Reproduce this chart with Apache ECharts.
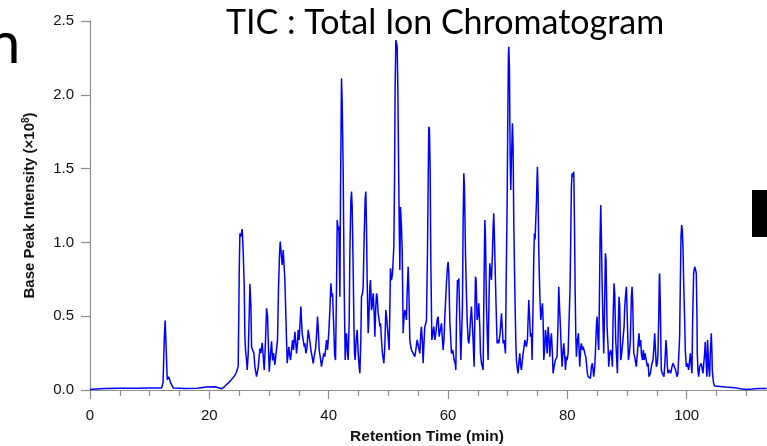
<!DOCTYPE html>
<html>
<head>
<meta charset="utf-8">
<title>TIC : Total Ion Chromatogram</title>
<script src="https://cdn.jsdelivr.net/npm/echarts@6/dist/echarts.min.js"></script>
<style>
  html, body { margin: 0; padding: 0; background: #fff; }
  #chart { width: 767px; height: 446px; }
</style>
</head>
<body>
<div id="chart"></div>
<script>
// retention time (min)
const retentionTime = [
  0, 1, 2.5, 5, 8, 10, 12, 12.25, 12.45, 12.6,
  12.75, 12.95, 13.2, 13.5, 13.95, 16, 18, 19.5, 21, 22.05,
  22.6, 23.5, 24.3, 24.56, 24.84, 25.01, 25.12, 25.29, 25.51, 25.68,
  25.85, 25.96, 26.07, 26.24, 26.35, 26.52, 26.69, 26.8, 26.97, 27.08,
  27.24, 27.47, 27.63, 27.91, 28.19, 28.36, 28.47, 28.64, 28.86, 29.03,
  29.2, 29.42, 29.59, 29.76, 29.92, 30.04, 30.26, 30.43, 30.59, 30.76,
  30.98, 31.26, 31.43, 31.6, 31.77, 31.88, 32.05, 32.21, 32.38, 32.49,
  32.66, 32.77, 32.94, 33.05, 33.22, 33.33, 33.5, 33.61, 33.78, 33.94,
  34.11, 34.34, 34.5, 34.61, 34.78, 34.89, 35.06, 35.34, 35.45, 35.56,
  35.73, 35.9, 36.01, 36.18, 36.35, 36.57, 36.74, 36.9, 37.02, 37.18,
  37.41, 37.57, 37.8, 37.96, 38.13, 38.24, 38.41, 38.58, 38.8, 38.97,
  39.19, 39.36, 39.64, 39.81, 40.03, 40.2, 40.37, 40.53, 40.65, 40.81,
  41, 41.15, 41.32, 41.43, 41.6, 41.71, 41.88, 41.99, 42.15, 42.27,
  42.43, 42.6, 42.77, 42.88, 42.99, 43.16, 43.27, 43.44, 43.55, 43.72,
  43.83, 43.94, 44.11, 44.22, 44.33, 44.44, 44.61, 44.78, 44.95, 45.11,
  45.23, 45.39, 45.5, 45.67, 45.78, 45.95, 46.12, 46.23, 46.34, 46.45,
  46.62, 46.73, 46.9, 47.01, 47.18, 47.29, 47.46, 47.63, 47.74, 47.9,
  48.02, 48.13, 48.3, 48.46, 48.58, 48.69, 48.85, 49.02, 49.25, 49.41,
  49.58, 49.75, 49.97, 50.14, 50.25, 50.36, 50.53, 50.7, 50.81, 50.92,
  51.03, 51.14, 51.26, 51.37, 51.48, 51.59, 51.7, 51.81, 51.93, 52.04,
  52.09, 52.2, 52.32, 52.43, 52.48, 52.6, 52.76, 52.93, 53.04, 53.15,
  53.32, 53.43, 53.6, 53.77, 53.88, 54.16, 54.44, 54.61, 54.83, 55,
  55.16, 55.28, 55.44, 55.55, 55.72, 55.83, 56, 56.11, 56.28, 56.39,
  56.56, 56.67, 56.78, 56.89, 57.01, 57.12, 57.29, 57.45, 57.62, 57.79,
  57.96, 58.18, 58.35, 58.51, 58.63,
  58.91, 59.07, 59.19, 59.35, 59.47, 59.58, 59.74, 59.91, 60.02, 60.14,
  60.3, 60.47, 60.58, 60.8, 61.03, 61.2, 61.31, 61.42, 61.59, 61.7,
  61.81, 61.98, 62.15, 62.26, 62.42, 62.54, 62.65, 62.76, 62.93, 63.09,
  63.21, 63.37, 63.49, 63.65, 63.76, 63.93, 64.04, 64.21, 64.38, 64.49,
  64.6, 64.71, 64.88, 65.05, 65.16, 65.33, 65.44, 65.61, 65.89, 66,
  66.17, 66.28, 66.44, 66.61, 66.72, 66.89, 67, 67.17, 67.28, 67.45,
  67.56, 67.67, 67.78, 67.95, 68.12, 68.23, 68.4, 68.51, 68.73, 68.96,
  69.12, 69.24, 69.4, 69.63, 69.74, 69.91, 70.02, 70.13, 70.19, 70.3,
  70.41, 70.52, 70.63, 70.8, 70.91, 71.02, 71.19, 71.36, 71.47, 71.64,
  71.75, 71.92, 72.03, 72.2, 72.31, 72.47, 72.59, 72.75, 72.87, 73.03,
  73.14, 73.31, 73.54, 73.7, 73.81, 73.98, 74.09, 74.26, 74.37, 74.48,
  74.6, 74.71, 74.82, 74.93, 74.99, 75.1, 75.21, 75.38, 75.55,
  75.66, 75.83, 75.94, 76.05, 76.22, 76.33, 76.5, 76.61, 76.78, 76.94,
  77.06, 77.22, 77.33, 77.5, 77.61, 77.78, 78, 78.17, 78.28, 78.45,
  78.56, 78.67, 78.84, 79.01, 79.12, 79.29, 79.4, 79.57, 79.68, 79.85,
  79.96, 80.13, 80.29, 80.46, 80.57, 80.68, 80.8, 80.96, 81.08, 81.19,
  81.3, 81.41, 81.52, 81.69, 81.86, 81.97, 82.08, 82.25, 82.36, 82.53,
  82.64, 82.81, 82.92, 83.09, 83.2, 83.36, 83.48, 83.64, 83.87, 84.03,
  84.2, 84.31, 84.42, 84.59, 84.7, 84.87, 84.98, 85.15, 85.26, 85.37,
  85.49, 85.6, 85.71, 85.82, 85.99, 86.1, 86.21, 86.38, 86.49, 86.66,
  86.83, 86.94, 87.11, 87.27, 87.44, 87.55, 87.66, 87.83, 87.94, 88.11,
  88.28, 88.39, 88.56, 88.67, 88.78, 88.95, 89.12, 89.34, 89.51, 89.62,
  89.79, 89.9, 90.06, 90.23, 90.4, 90.57, 90.73, 90.85, 90.96, 91.13,
  91.29, 91.46, 91.57, 91.74, 91.91, 92.02, 92.13, 92.3, 92.41, 92.58,
  92.74, 92.86, 93.02, 93.25, 93.41, 93.53, 93.69, 93.92, 94.09,
  94.19, 94.36, 94.52, 94.64, 94.8, 94.91, 95.08, 95.19, 95.31, 95.42,
  95.47, 95.58, 95.7, 95.75, 95.92, 96.03, 96.2, 96.37, 96.53, 96.65,
  96.76, 96.87, 97.09, 97.32, 97.54, 97.71, 97.87, 97.99, 98.15, 98.38,
  98.54, 98.71, 98.82, 98.93, 99.05, 99.16, 99.27, 99.38, 99.49, 99.66,
  99.77, 99.94, 100.11, 100.33, 100.5, 100.61, 100.78, 100.89, 101, 101.17,
  101.34, 101.5, 101.61, 101.73, 101.78, 101.89, 102.01, 102.17, 102.34, 102.45,
  102.56, 102.73, 102.84, 103.01, 103.12, 103.23, 103.35, 103.4, 103.51, 103.57,
  103.68, 103.85, 103.96, 104.13, 104.24, 104.29, 104.41, 104.52, 104.69, 105,
  106.5, 108, 109, 110, 111, 112, 113.4
];

// base peak intensity (x10^8), same order as retentionTime
const intensity = [
  0.003, 0.006, 0.01, 0.012, 0.012, 0.013, 0.014, 0.05, 0.35, 0.47,
  0.3, 0.07, 0.09, 0.05, 0.014, 0.01, 0.012, 0.02, 0.022, 0.008,
  0.025, 0.06, 0.1, 0.124, 0.16, 0.79, 1.06, 1.04, 1.09, 0.93,
  0.7, 0.36, 0.27, 0.2, 0.136, 0.25, 0.52, 0.72, 0.565, 0.29,
  0.3, 0.25, 0.16, 0.09, 0.15, 0.23, 0.28, 0.25, 0.32, 0.23,
  0.136, 0.34, 0.553, 0.5, 0.27, 0.124, 0.25, 0.33, 0.2, 0.25,
  0.17, 0.158, 0.34, 0.7, 0.926, 1.005, 0.926, 0.847, 0.949, 0.94,
  0.745, 0.587, 0.339, 0.181, 0.248, 0.293, 0.226, 0.203, 0.271, 0.339,
  0.271, 0.395, 0.316, 0.248, 0.316, 0.407, 0.339, 0.565, 0.474, 0.384,
  0.339, 0.293, 0.316, 0.248, 0.28, 0.407, 0.395, 0.316, 0.271, 0.237,
  0.181, 0.226, 0.28, 0.361, 0.497, 0.429, 0.271, 0.226, 0.158, 0.203,
  0.248, 0.226, 0.339, 0.271, 0.395, 0.542, 0.723, 0.632, 0.655, 0.474,
  0.24, 0.203, 0.7, 1.152, 1.084, 1.107, 0.632, 1.377, 2.112, 1.942,
  1.491, 0.7, 0.203, 0.339, 0.384, 0.248, 0.203, 0.474, 0.926, 1.28,
  1.344, 1.24, 0.813, 0.474, 0.248, 0.203, 0.339, 0.407, 0.248, 0.158,
  0.113, 0.339, 0.632, 0.655, 0.7, 1.039, 1.3, 1.344, 1.107, 0.745,
  0.384, 0.474, 0.7, 0.745, 0.542, 0.565, 0.655, 0.519, 0.361, 0.565,
  0.655, 0.632, 0.519, 0.474, 0.429, 0.452, 0.339, 0.248, 0.181, 0.293,
  0.542, 0.474, 0.474, 0.271, 0.542, 0.824, 0.745, 0.79, 0.881, 0.971,
  1.377, 2.05, 2.371, 2.35, 2.326, 2.05, 1.6, 1.152, 0.813, 1.24,
  1.253, 1.107, 0.949, 0.587, 0.384, 0.474, 0.542, 0.519, 0.474, 0.655,
  0.835, 0.7, 0.339, 0.293, 0.271, 0.248, 0.226, 0.271, 0.339, 0.339,
  0.271, 0.248, 0.384, 0.429, 0.316, 0.181, 0.339, 0.429, 0.452, 0.474,
  0.926, 1.377, 1.784, 1.762, 1.491, 0.881, 0.339, 0.384, 0.429, 0.339,
  0.384, 0.474, 0.497, 0.361, 0.361,
  0.452, 0.339, 0.271, 0.361, 0.497, 0.587, 0.723, 0.835, 0.869, 0.79,
  0.474, 0.339, 0.248, 0.271, 0.203, 0.181, 0.136, 0.474, 0.745, 0.723,
  0.756, 0.474, 0.203, 0.339, 0.565, 1.152, 1.468, 1.377, 0.926, 0.655,
  0.474, 0.339, 0.316, 0.384, 0.474, 0.565, 0.576, 0.339, 0.158, 0.474,
  0.768, 0.745, 0.474, 0.519, 0.587, 0.429, 0.248, 0.181, 0.136, 0.587,
  1.152, 1.039, 0.587, 0.339, 0.203, 0.655, 0.858, 0.79, 0.745, 0.926,
  1.107, 1.197, 1.039, 0.745, 0.474, 0.316, 0.339, 0.316, 0.384, 0.519,
  0.407, 0.316, 0.339, 0.248, 0.7, 1.265, 1.829, 2.28, 2.326, 2.17,
  1.6, 1.355, 1.56, 1.807, 1.65, 1.152, 0.7, 0.339, 0.203, 0.136,
  0.113, 0.203, 0.248, 0.158, 0.136, 0.203, 0.248, 0.293, 0.339, 0.316,
  0.293, 0.339, 0.61, 0.474, 0.361, 0.384, 0.203, 0.587, 0.881, 1.061,
  1.02, 1.152, 1.265, 1.445, 1.513, 1.33, 0.949, 0.655, 0.474,
  0.519, 0.587, 0.474, 0.203, 0.293, 0.407, 0.339, 0.248, 0.429, 0.339,
  0.226, 0.339, 0.384, 0.248, 0.113, 0.158, 0.203, 0.203, 0.226, 0.474,
  0.7, 0.587, 0.429, 0.248, 0.158, 0.271, 0.316, 0.226, 0.136, 0.226,
  0.203, 0.248, 0.248, 0.7, 1.039, 1.377, 1.468, 1.445, 1.479, 1.152,
  0.7, 0.384, 0.226, 0.339, 0.384, 0.271, 0.158, 0.293, 0.316, 0.271,
  0.293, 0.271, 0.248, 0.226, 0.181, 0.113, 0.09, 0.1, 0.079, 0.158,
  0.181, 0.136, 0.09, 0.158, 0.248, 0.429, 0.497, 0.339, 0.271, 0.587,
  1.039, 1.253, 1.039, 0.745, 0.429, 0.248, 0.474, 0.926, 0.881, 0.429,
  0.293, 0.158, 0.248, 0.271, 0.226, 0.158, 0.474, 0.723, 0.655, 0.339,
  0.203, 0.113, 0.474, 0.632, 0.565, 0.203, 0.248, 0.248, 0.429, 0.565,
  0.655, 0.7, 0.474, 0.203, 0.248, 0.339, 0.632, 0.7, 0.587, 0.248,
  0.226, 0.181, 0.158, 0.248, 0.339, 0.384, 0.293, 0.339, 0.248, 0.203,
  0.271, 0.203, 0.248, 0.248, 0.158, 0.181, 0.09, 0.113, 0.158,
  0.181, 0.203, 0.293, 0.384, 0.248, 0.158, 0.181, 0.248, 0.474, 0.768,
  0.79, 0.587, 0.248, 0.136, 0.113, 0.113, 0.09, 0.203, 0.339, 0.271,
  0.158, 0.113, 0.136, 0.113, 0.158, 0.181, 0.181, 0.192, 0.136, 0.09,
  0.113, 0.113, 0.361, 0.7, 1.039, 1.118, 1.084, 0.971, 0.745, 0.474,
  0.271, 0.158, 0.181, 0.136, 0.203, 0.248, 0.158, 0.113, 0.474, 0.79,
  0.835, 0.813, 0.79, 0.474, 0.248, 0.136, 0.09, 0.158, 0.158, 0.181,
  0.181, 0.113, 0.113, 0.248, 0.327, 0.226, 0.113, 0.09, 0.339, 0.339,
  0.158, 0.09, 0.248, 0.384, 0.248, 0.136, 0.079, 0.045, 0.027, 0.022,
  0.02, 0.016, 0.008, 0.003, 0.006, 0.01, 0.011
];

const xTickValues = [0, 20, 40, 60, 80, 100, 120];
const yTickValues = [0, 0.5, 1.0, 1.5, 2.0, 2.5];

if (retentionTime.length !== intensity.length) {
  console.error('length mismatch', retentionTime.length, intensity.length);
}

const axisGrey = '#8c8c8c';
const tracePoints = retentionTime.map((t, i) => [t, intensity[i]]);

const chart = echarts.init(document.getElementById('chart'));

chart.setOption({
  animation: false,
  backgroundColor: '#fff',
  title: {
    text: 'TIC : Total Ion Chromatogram',
    left: 221,
    top: 1,
    textStyle: { fontFamily: 'Lato', fontSize: 34, fontWeight: 'normal', color: '#000' }
  },
  // plot runs past the right edge, as in the cropped original
  grid: { left: 90, right: -39, top: 21, bottom: 56, outerBoundsMode: 'none', containLabel: false },
  xAxis: {
    type: 'value',
    min: xTickValues[0],
    max: xTickValues[xTickValues.length - 1],
    interval: 20,
    name: 'Retention Time (min)',
    nameLocation: 'middle',
    nameGap: 39,
    nameTextStyle: {
      fontFamily: 'Liberation Sans', fontWeight: 'bold', fontSize: 15.5, color: '#111',
      padding: [0, 42, 0, 0]
    },
    axisLine: { lineStyle: { color: axisGrey, width: 1.2 } },
    axisTick: { length: 9, lineStyle: { color: axisGrey, width: 1.2 } },
    minorTick: { show: true, splitNumber: 4, length: 6, lineStyle: { color: axisGrey, width: 1.2 } },
    splitLine: { show: false },
    axisLabel: { margin: 18, fontFamily: 'Liberation Sans', fontSize: 15, color: '#111' }
  },
  yAxis: {
    type: 'value',
    min: yTickValues[0],
    max: yTickValues[yTickValues.length - 1],
    interval: 0.5,
    name: 'Base Peak Intensity (×10{sup|8})',
    nameLocation: 'middle',
    nameGap: 52,
    nameTextStyle: {
      fontFamily: 'Liberation Sans', fontWeight: 'bold', fontSize: 15, color: '#111', lineHeight: 17,
      rich: { sup: { fontFamily: 'Liberation Sans', fontWeight: 'bold', fontSize: 10, lineHeight: 10, verticalAlign: 'top', color: '#111' } }
    },
    axisLine: { show: true, lineStyle: { color: axisGrey, width: 1.2 } },
    axisTick: { show: true, length: 9, lineStyle: { color: axisGrey, width: 1.2 } },
    splitLine: { show: false },
    axisLabel: {
      margin: 16, fontFamily: 'Liberation Sans', fontSize: 15, color: '#111',
      formatter: v => v.toFixed(1)
    }
  },
  series: [{
    type: 'line',
    data: tracePoints,
    showSymbol: false,
    clip: true,
    lineStyle: { color: '#0000ff', width: 1.5 }
  }],
  graphic: [
    {
      type: 'text',
      left: -12,
      top: 15,
      style: { text: 'n', font: '58px Lato', fill: '#000' }
    },
    {
      type: 'rect',
      shape: { x: 752, y: 190, width: 15, height: 47 },
      style: { fill: '#000' }
    }
  ]
});

window.addEventListener('resize', () => chart.resize());
</script>
</body>
</html>
